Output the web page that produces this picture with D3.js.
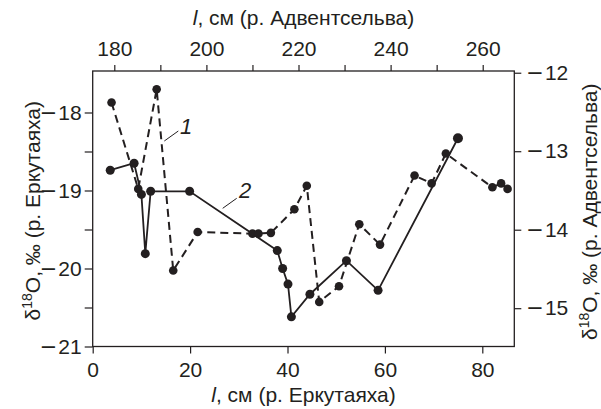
<!DOCTYPE html>
<html><head><meta charset="utf-8">
<script src="https://cdn.jsdelivr.net/npm/d3@7"></script>
<style>
html,body{margin:0;padding:0;background:#fff;}
svg text{font-family:"Liberation Sans",Arial,Helvetica,sans-serif;fill:#231f20;}
svg tspan.mn{font-family:"DejaVu Sans",sans-serif;}
</style></head>
<body>
<svg id="c" width="601" height="409"></svg>
<script>
// Series 2 (solid): l, cm (r. Erkutayakha) vs δ18O (left axis)
const s2X = [3.6, 8.5, 10.0, 10.8, 11.9, 19.9, 37.9, 39.0, 40.1, 40.8, 44.6, 52.1, 58.6, 75.0];
const s2Y = [-18.74, -18.65, -19.05, -19.81, -19.01, -19.01, -19.77, -20.0, -20.2, -20.62, -20.33, -19.9, -20.28, -18.33];
// Series 1 (dashed): l, cm (r. Adventselva) vs δ18O (right axis)
const s1X = [179.4, 185.2, 189.2, 192.8, 198.1, 210.0, 211.3, 214.0, 219.1, 221.8, 224.5, 228.8, 233.2, 237.7, 245.2, 248.9, 252.0, 262.1, 264.0, 265.4];
const s1Y = [-12.38, -13.48, -12.21, -14.52, -14.03, -14.05, -14.05, -14.04, -13.74, -13.44, -14.92, -14.72, -13.93, -14.19, -13.31, -13.41, -13.03, -13.46, -13.41, -13.48];

const bottomTicks = [0, 20, 40, 60, 80];
const topTicks = [180, 190, 200, 210, 220, 230, 240, 250, 260];
const topLabels = [180, 200, 220, 240, 260];
const leftTicks = [-21, -20.5, -20, -19.5, -19, -18.5, -18];
const leftLabels = [-21, -20, -19, -18];
const rightTicks = [-15, -14, -13, -12];

const L = 92.7, R = 514.3, T = 71, B = 346.5;
const svg = d3.select("#c");
const ink = "#231f20";

const xB = d3.scaleLinear().domain([0, 86.57]).range([L, R]);
const xT = d3.scaleLinear().domain([175.31, 266.86]).range([L, R]);
const yL = d3.scaleLinear().domain([-21, -17.468]).range([B, T]);
const yR = d3.scaleLinear().domain([-15.488, -11.978]).range([B, T]);

const fs = 21;

function styleAxis(g){
  g.select(".domain").remove();
  g.selectAll(".tick line").attr("stroke", ink).attr("stroke-width", 1.2);
  g.selectAll(".tick text").attr("font-size", fs).attr("fill", ink)
   .each(function(d){
     const t = d3.select(this);
     const s = t.text();
     if (s && d < 0){
       t.text(null);
       t.append("tspan").attr("class", "mn").attr("font-family", "DejaVu Sans").text("\u2212");
       t.append("tspan").attr("dx", 1).text(String(Math.abs(d)));
     }
   });
}
const fmt = d => String(d);

svg.append("g").attr("transform", `translate(0,${B})`)
  .call(d3.axisBottom(xB).tickValues(bottomTicks).tickSize(7).tickPadding(9).tickFormat(fmt))
  .call(styleAxis);
svg.append("g").attr("transform", `translate(0,${T})`)
  .call(d3.axisTop(xT).tickValues(topTicks).tickSize(6).tickPadding(9)
    .tickFormat(d => topLabels.includes(d) ? fmt(d) : ""))
  .call(styleAxis);
svg.append("g").attr("transform", `translate(${L},0)`)
  .call(d3.axisLeft(yL).tickValues(leftTicks).tickSize(8).tickPadding(3)
    .tickFormat(d => leftLabels.includes(d) ? fmt(d) : ""))
  .call(styleAxis);
svg.append("g").attr("transform", `translate(${R},0)`)
  .call(d3.axisRight(yR).tickValues(rightTicks).tickSize(7).tickPadding(5).tickFormat(fmt))
  .call(styleAxis);

svg.append("rect").attr("x", L).attr("y", T).attr("width", R - L).attr("height", B - T)
  .attr("fill", "none").attr("stroke", ink).attr("stroke-width", 1.3);

const s1 = s1X.map((x, i) => [xT(x), yR(s1Y[i])]);
const s2 = s2X.map((x, i) => [xB(x), yL(s2Y[i])]);
const line = d3.line();

svg.append("path").attr("d", line(s1)).attr("fill", "none").attr("stroke", ink)
  .attr("stroke-width", 2).attr("stroke-dasharray", "8,5");
svg.append("path").attr("d", line(s2)).attr("fill", "none").attr("stroke", ink)
  .attr("stroke-width", 1.8);

svg.append("g").selectAll("circle").data(s1).join("circle")
  .attr("cx", d => d[0]).attr("cy", d => d[1]).attr("r", 4.3).attr("fill", ink);
svg.append("g").selectAll("circle").data(s2).join("circle")
  .attr("cx", d => d[0]).attr("cy", d => d[1]).attr("r", (d, i) => i === s2.length - 1 ? 5 : 4.5).attr("fill", ink);

// series labels with leader lines
svg.append("line").attr("x1", 164.3).attr("y1", 141).attr("x2", 178.3).attr("y2", 131)
  .attr("stroke", ink).attr("stroke-width", 1);
svg.append("text").attr("x", 180).attr("y", 134).attr("font-size", 22).attr("font-style", "italic").text("1");
svg.append("line").attr("x1", 222.7).attr("y1", 208.3).attr("x2", 236.7).attr("y2", 198.3)
  .attr("stroke", ink).attr("stroke-width", 1);
svg.append("text").attr("x", 239).attr("y", 198).attr("font-size", 22).attr("font-style", "italic").text("2");

// axis titles
function title(sel, site){
  sel.append("tspan").attr("font-style", "italic").text("l");
  sel.append("tspan").text(", см (р. " + site + ")");
}
svg.append("text").attr("x", (L + R) / 2).attr("y", 25).attr("text-anchor", "middle")
  .attr("font-size", fs).call(title, "Адвентсельва");
svg.append("text").attr("x", (L + R) / 2).attr("y", 402).attr("text-anchor", "middle")
  .attr("font-size", fs).call(title, "Еркутаяха");

function dTitle(sel, site){
  sel.append("tspan").text("δ");
  sel.append("tspan").attr("font-size", 14).attr("dy", -8).text("18");
  sel.append("tspan").attr("dy", 8).text("O, ‰ (р. " + site + ")");
}
svg.append("text").attr("transform", `translate(40,${(T + B) / 2 + 2}) rotate(-90)`)
  .attr("text-anchor", "middle").attr("font-size", fs).call(dTitle, "Еркутаяха");
svg.append("text").attr("transform", `translate(597,${(T + B) / 2 + 3}) rotate(-90)`)
  .attr("text-anchor", "middle").attr("font-size", fs).call(dTitle, "Адвентсельва");
</script>
</body></html>
